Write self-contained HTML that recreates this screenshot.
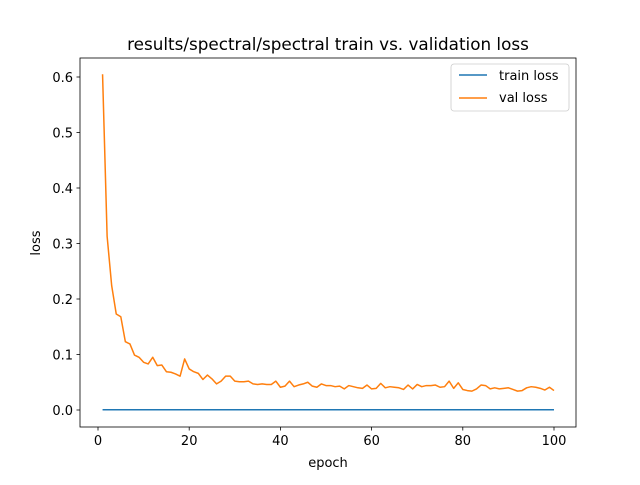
<!DOCTYPE html>
<html><head><meta charset="utf-8"><style>
body{margin:0;background:#fff}
svg text{font-family:"DejaVu Sans","Liberation Sans",sans-serif;fill:#000}
</style></head><body>
<svg width="640" height="480" viewBox="0 0 640 480">
<rect x="0" y="0" width="640" height="480" fill="#fff"/>
<text x="328" y="50" font-size="16.8" text-anchor="middle">results/spectral/spectral train vs. validation loss</text>
<g id="plot"></g>
<rect x="80" y="58" width="496" height="369" fill="none" stroke="#000" stroke-width="0.8"/>
<text x="328" y="467" font-size="13" text-anchor="middle">epoch</text>
<text x="0" y="0" font-size="13" text-anchor="middle" transform="translate(40,243) rotate(-90)">loss</text>
<g>
<rect x="451" y="64" width="118" height="47" rx="3" fill="#fff" stroke="#ccc" stroke-width="0.8"/>
<line x1="459" y1="75" x2="487" y2="75" stroke="#1f77b4" stroke-width="1.5"/>
<text x="499" y="80" font-size="13">train loss</text>
<line x1="459" y1="98" x2="487" y2="98" stroke="#ff7f0e" stroke-width="1.5"/>
<text x="499" y="102" font-size="13">val loss</text>
</g>
</svg>
<script>
const xTicks=[0,20,40,60,80,100];
const yTicks=[0.0,0.1,0.2,0.3,0.4,0.5,0.6];
const yTickLabels=["0.0","0.1","0.2","0.3","0.4","0.5","0.6"];
const trainLoss=new Array(100).fill(0.0005);
const valLoss=[0.605,0.313,0.224,0.173,0.168,0.123,0.119,0.099,0.095,0.086,
0.083,0.095,0.080,0.081,0.069,0.068,0.065,0.061,0.092,0.074,
0.069,0.066,0.055,0.063,0.056,0.047,0.052,0.061,0.061,0.052,
0.051,0.051,0.052,0.047,0.046,0.047,0.046,0.046,0.052,0.041,
0.043,0.052,0.042,0.045,0.047,0.050,0.043,0.041,0.047,0.044,
0.044,0.042,0.043,0.038,0.044,0.042,0.040,0.039,0.045,0.038,
0.039,0.048,0.040,0.042,0.041,0.040,0.037,0.045,0.038,0.046,
0.042,0.044,0.044,0.045,0.041,0.042,0.052,0.039,0.049,0.037,
0.035,0.034,0.038,0.045,0.044,0.038,0.040,0.038,0.039,0.040,
0.037,0.034,0.035,0.040,0.042,0.041,0.039,0.036,0.041,0.035];
const X=v=>98+v*4.56, Y=v=>410-v*555;
const NS="http://www.w3.org/2000/svg";
const g=document.getElementById('plot');
function el(t,a){const e=document.createElementNS(NS,t);for(const k in a)e.setAttribute(k,a[k]);g.appendChild(e);return e;}
xTicks.forEach(t=>{
 const l=el('line',{x1:X(t),x2:X(t),y1:427,y2:430.5,stroke:'#000','stroke-width':0.8});
 
 
 const tx=el('text',{x:X(t),y:445,'font-size':13,'text-anchor':'middle'});tx.textContent=t;
 
 
});
yTicks.forEach((t,i)=>{
 const l=el('line',{x1:76.5,x2:80,y1:Y(t),y2:Y(t),stroke:'#000','stroke-width':0.8});
 
 
 const tx=el('text',{x:73,y:Y(t)+5,'font-size':13,'text-anchor':'end'});tx.textContent=yTickLabels[i];
 
 
});
function line(d,c,n){
 const p=el('polyline',{points:d.map((v,i)=>X(i+1)+','+Y(v)).join(' '),fill:'none',stroke:c,'stroke-width':1.5,'stroke-linejoin':'round'});
 
 
}
line(trainLoss,'#1f77b4','train-loss-line');
line(valLoss,'#ff7f0e','val-loss-line');
</script>
</body></html>
